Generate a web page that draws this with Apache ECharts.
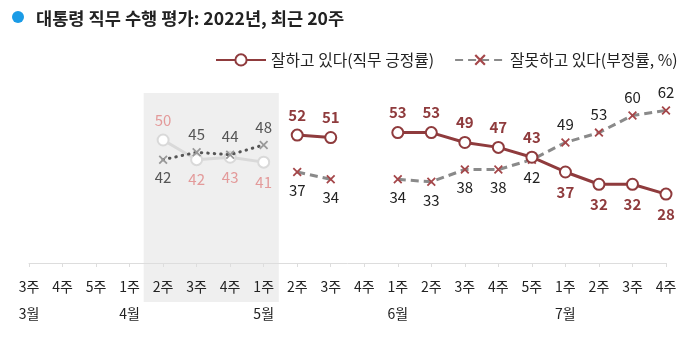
<!DOCTYPE html>
<html><head><meta charset="utf-8">
<script src="https://cdn.jsdelivr.net/npm/echarts@6/dist/echarts.min.js"></script>
<style>html,body{margin:0;padding:0;background:#fff}#c{width:700px;height:341px}</style>
</head><body><div id="c"></div>
<script>
var weeks = ['3주','4주','5주','1주','2주','3주','4주','1주','2주','3주','4주','1주','2주','3주','4주','5주','1주','2주','3주','4주'];
var months = ['3월','','','4월','','','','5월','','','','6월','','','','','7월','','',''];
var approve = [null,null,null,null,50,42,43,41,52,51,null,53,53,49,47,43,37,32,32,28];
var disapprove = [null,null,null,null,42,45,44,48,37,34,null,34,33,38,38,42,49,53,60,62];
var shadedIdx = [4,5,6,7];

var FONT = '"Noto Sans CJK KR", "Noto Sans", sans-serif';
var RED = '#8f3b3d';
var XPATH = 'path://M0,1.4L1.4,0L10,8.6L8.6,10Z M8.6,0L10,1.4L1.4,10L0,8.6Z';

function build(arr, other, inShade, mine) {
  return arr.map(function (v, i) {
    var isShade = shadedIdx.indexOf(i) >= 0;
    if (v == null || isShade !== inShade) return [i, null];
    var o = other[i];
    var above = mine ? (o == null || v >= o) : (o != null && v > o);
    return { value: [i, v], label: { position: above ? 'top' : 'bottom' } };
  });
}

var chart = echarts.init(document.getElementById('c'));
var option = {
  animation: false,
  textStyle: { fontFamily: FONT },
  title: {
    text: '대통령 직무 수행 평가: 2022년, 최근 20주',
    left: 31, top: 5,
    textStyle: { fontSize: 17.6, fontWeight: 'bold', color: '#222', fontFamily: FONT }
  },
  legend: {
    left: 210, top: 47,
    itemWidth: 50, itemHeight: 14, itemGap: 20,
    textStyle: { fontSize: 15.8, color: '#222', fontFamily: FONT },
    data: ['잘하고 있다(직무 긍정률)', '잘못하고 있다(부정률, %)']
  },
  grid: { left: 29, right: 34, top: 17, bottom: 78 },
  xAxis: {
    type: 'value', min: 0, max: 19, interval: 1,
    splitLine: { show: false },
    axisLine: { show: true, lineStyle: { color: '#ddd', width: 1 } },
    axisTick: { show: true, length: 4, lineStyle: { color: '#ddd' } },
    axisLabel: {
      margin: 10,
      formatter: function (v) { return '{w|' + weeks[v] + '}\n{m|' + (months[v] || ' ') + '}'; },
      rich: {
        w: { fontSize: 14, color: '#222', lineHeight: 27, fontFamily: FONT },
        m: { fontSize: 14, color: '#222', lineHeight: 27, fontFamily: FONT }
      }
    }
  },
  yAxis: { type: 'value', min: 0, max: 100, show: false },
  series: [
    {
      name: '잘못하고 있다(부정률, %)', type: 'line', z: 3,
      data: build(disapprove, approve, false, false),
      connectNulls: false,
      lineStyle: { color: '#8a8a8a', width: 3, type: [8, 5] },
      itemStyle: { color: '#a5474a' },
      symbol: XPATH, symbolSize: 9,
      label: { show: true, fontSize: 15, color: '#222', distance: 6, fontFamily: FONT }
    },
    {
      name: '잘하고 있다(직무 긍정률)', type: 'line', z: 4,
      data: build(approve, disapprove, false, true),
      connectNulls: false,
      lineStyle: { color: RED, width: 3 },
      itemStyle: { color: '#fff', borderColor: RED, borderWidth: 2 },
      symbol: 'circle', symbolSize: 11,
      label: { show: true, fontSize: 15, fontWeight: 'bold', color: RED, distance: 6, fontFamily: FONT }
    },
    {
      name: 'shade-dis', type: 'line', z: 3,
      data: build(disapprove, approve, true, false),
      lineStyle: { color: '#555', width: 3, type: [0.5, 6], cap: 'round' },
      itemStyle: { color: '#999' },
      symbol: XPATH, symbolSize: 9,
      label: { show: true, fontSize: 15, color: '#555', distance: 6, fontFamily: FONT }
    },
    {
      name: 'shade-app', type: 'line', z: 2,
      data: build(approve, disapprove, true, true),
      lineStyle: { color: '#d9d9d9', width: 3 },
      itemStyle: { color: '#fff', borderColor: '#d9d9d9', borderWidth: 2 },
      symbol: 'circle', symbolSize: 11,
      label: { show: true, fontSize: 15, color: '#e39a9a', distance: 6, fontFamily: FONT }
    }
  ]
};
chart.setOption(option);

var x0 = chart.convertToPixel({ xAxisIndex: 0 }, 3.42);
var x1 = chart.convertToPixel({ xAxisIndex: 0 }, 7.45);
chart.setOption({
  graphic: [
    { type: 'circle', shape: { cx: 18, cy: 17, r: 6 }, style: { fill: '#1a9be6' } },
    { type: 'rect', z: -10, silent: true, shape: { x: x0, y: 93, width: x1 - x0, height: 209 }, style: { fill: '#efefef' } }
  ]
});
</script>
</body></html>
